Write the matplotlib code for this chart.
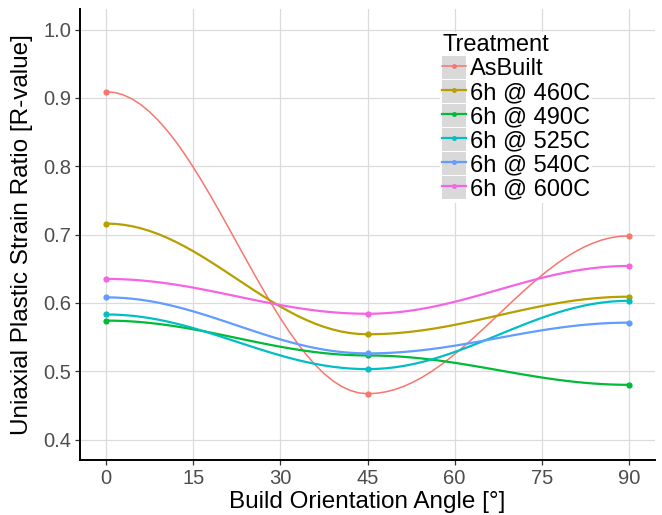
import numpy as np
import matplotlib.pyplot as plt
from matplotlib.patches import Rectangle
from matplotlib.legend_handler import HandlerLine2D

plt.rcParams['font.family'] = ['Liberation Sans', 'DejaVu Sans']

angles = [0, 45, 90]
treatments = ["AsBuilt", "6h @ 460C", "6h @ 490C", "6h @ 525C", "6h @ 540C", "6h @ 600C"]
r_asbuilt = [0.909, 0.467, 0.698]
r_460 = [0.716, 0.554, 0.609]
r_490 = [0.574, 0.523, 0.480]
r_525 = [0.583, 0.503, 0.603]
r_540 = [0.608, 0.526, 0.571]
r_600 = [0.635, 0.584, 0.654]
series = [r_asbuilt, r_460, r_490, r_525, r_540, r_600]
colors = ["#F8766D", "#B79F00", "#00BA38", "#00BFC4", "#619CFF", "#F564E3"]
widths = [1.1, 1.6, 1.6, 1.6, 1.6, 1.6]


def smooth_curve(x, y, n=30):
    # cosine interpolation between neighbouring points (flat at each point)
    xs, ys = [], []
    for i in range(len(x) - 1):
        t = np.linspace(0, 1, n, endpoint=(i == len(x) - 2))
        w = (1 - np.cos(np.pi * t)) / 2
        xs.append(x[i] + (x[i + 1] - x[i]) * t)
        ys.append(y[i] + (y[i + 1] - y[i]) * w)
    return np.concatenate(xs), np.concatenate(ys)


class KeyHandler(HandlerLine2D):
    def create_artists(self, legend, orig_handle, xdescent, ydescent,
                       width, height, fontsize, trans):
        bg = Rectangle((-xdescent, -ydescent - 0.5), width, height + 1.0,
                       facecolor="#D9D9D9", edgecolor="none", transform=trans)
        arts = super().create_artists(legend, orig_handle, xdescent, ydescent,
                                      width, height, fontsize, trans)
        return [bg] + arts


fig = plt.figure(figsize=(6.62, 5.15), dpi=100)
ax = fig.add_axes([80 / 662, 1 - 460 / 515, 575 / 662, 451 / 515])

for name, r, c, w in zip(treatments, series, colors, widths):
    xs, ys = smooth_curve(angles, r)
    ax.plot(xs, ys, color=c, lw=w, label=name)
    ax.plot(angles, r, "o", color=c, markersize=4.5, markeredgewidth=0)

ax.set_xlim(-4.5, 94.5)
ax.set_ylim(0.37, 1.03)
ax.set_xticks([0, 15, 30, 45, 60, 75, 90])
ax.set_yticks([0.4, 0.5, 0.6, 0.7, 0.8, 0.9, 1.0])
ax.set_yticklabels(["0.4", "0.5", "0.6", "0.7", "0.8", "0.9", "1.0"])
ax.grid(True, color="#DBDBDB", lw=0.9)
ax.set_axisbelow(True)
for s in ["top", "right"]:
    ax.spines[s].set_visible(False)
for s in ["left", "bottom"]:
    ax.spines[s].set_color("black")
    ax.spines[s].set_linewidth(1.4)
ax.tick_params(length=3.5, width=0.9, color="#333333", labelcolor="#4D4D4D",
               labelsize=14.5, pad=3)
ax.set_xlabel("Build Orientation Angle [°]", fontsize=17.5, labelpad=2)
ax.set_ylabel("Uniaxial Plastic Strain Ratio [R-value]", fontsize=17.5, labelpad=7)

handles = [plt.Line2D([], [], color=c, lw=w, marker="o", markersize=2.5)
           for c, w in zip(colors, widths)]
leg = ax.legend(handles, treatments, title="Treatment", loc="upper left",
                bbox_to_anchor=(440 / 662, 1 - 32 / 515), bbox_transform=fig.transFigure,
                fontsize=17, title_fontsize=17, frameon=True, facecolor="white",
                edgecolor="none", framealpha=1, fancybox=False, borderpad=0.1,
                handlelength=1.0, handleheight=1.05, handletextpad=0.15,
                labelspacing=0.0, borderaxespad=0,
                handler_map={plt.Line2D: KeyHandler()})
leg._legend_box.align = "left"

fig.savefig("out.png", dpi=100)
